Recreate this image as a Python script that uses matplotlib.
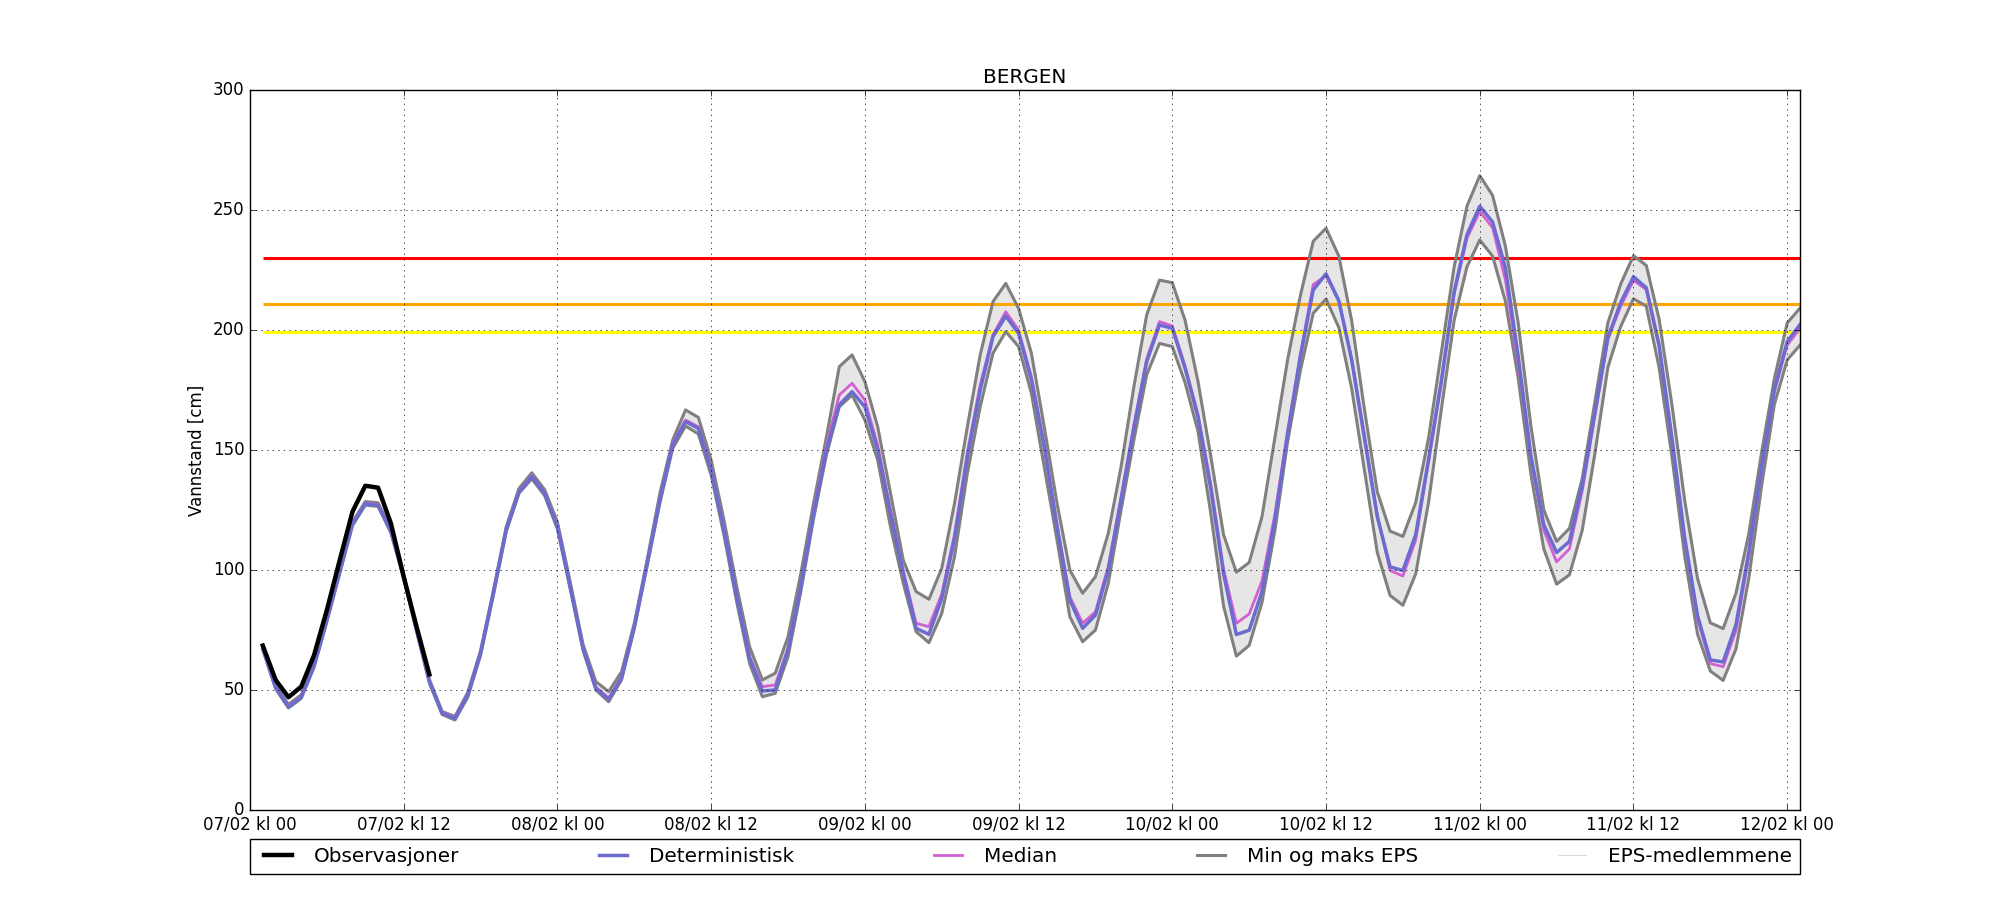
import datetime
import numpy as np
import pandas as pd
import matplotlib
matplotlib.use('Agg')
import matplotlib.pyplot as plt
import matplotlib.dates as mdates
from matplotlib.lines import Line2D

plt.style.use('classic')

station = 'BERGEN'
start = datetime.datetime(2016, 2, 7, 0, 0)
times = pd.date_range('2016-02-07 01:00', periods=121, freq='h')

# observed water level (first 14 hours)
obs = [68.5, 54.2, 47, 51.4, 64.5, 83.3, 104, 124.3, 135.1, 134.3, 119.4, 97.2, 76.4, 56.5]

deterministic = [
    67, 51, 43, 47, 60, 79, 99, 119, 127.5, 127, 116, 97, 75, 53.5, 40.3, 38.2, 47.9, 65.3, 90.3, 116.7, 132.6, 138.9, 131.9, 118,
    93, 67.4, 50.7, 46.1, 54.9, 76.4, 102.8, 129.2, 152.1, 161.8, 159, 141.7, 116.7, 88.9, 63.2, 49.6, 50, 66.7, 93, 123.6, 150, 168.8, 174.3, 168,
    150, 123.6, 98.6, 75.7, 73.2, 88.2, 113.2, 147.2, 175, 197.2, 205.8, 198.6, 179.2, 151.4, 118, 87.5, 75.7, 81.2, 100, 129.2, 159, 186.8, 202.1, 200.7,
    184, 163.8, 134, 98.4, 73.1, 74.9, 91, 120.7, 156.4, 189.1, 216.7, 223.4, 212.2, 187.6, 154.9, 122.2, 101.3, 99.8, 114.7, 146, 178.7, 215.9, 239.7, 251.6,
    245, 226, 189, 147.4, 118.8, 107.3, 111.9, 135, 165.9, 196.8, 211.4, 222.2, 217.6, 193.7, 155.1, 113.4, 81, 62.5, 61.7, 77.2, 107.3, 142.7, 175.2, 195.2, 202.2]

median = [
    67.2, 51.2, 43.3, 47.3, 60.2, 79.3, 99.3, 119.3, 127.8, 127.3, 116.3, 97.3, 75.3, 53.8, 40.6, 38.6, 48.3, 65.6, 90.6, 117, 133, 139.3, 132.3, 118.5,
    93.5, 67.8, 51.2, 46.7, 55.4, 76.8, 103.2, 129.8, 152.8, 162.5, 159.7, 142.5, 117.5, 89.5, 64, 51.4, 52.1, 67.5, 93.5, 124.5, 152, 172.9, 177.8, 170.8,
    152, 125, 99.5, 77.8, 76.4, 90, 115, 149, 177, 198, 207.6, 200, 180.5, 152.5, 119, 88.9, 77.8, 82.6, 101.5, 130.5, 160.5, 188, 203.5, 201.7,
    185, 165, 136, 100.5, 77.8, 81.7, 95.4, 123, 158, 190, 218.9, 222.6, 212, 188, 156, 123, 99.8, 97.5, 112.5, 145, 178, 215, 238.2, 249.4,
    242.7, 221, 186, 146.5, 116.5, 103.4, 108.8, 133, 164.5, 196, 209.9, 220.7, 216.8, 193, 154.5, 112.5, 79.5, 61, 59.7, 74.8, 105.5, 141.5, 174.5, 193.7, 200.6]

eps_max = [
    68, 52, 44, 48, 61, 80, 100, 120, 128.5, 128, 117, 98, 76, 54.5, 41, 39, 49, 66.5, 91.5, 118, 134, 140.5, 133.5, 120,
    95, 69, 53.5, 49.3, 57.6, 77.8, 104.2, 132, 154.2, 166.7, 163.6, 145.8, 120.8, 93, 68, 54.2, 57, 72.2, 98.5, 128, 155.5, 184.7, 189.6, 178.5,
    159.7, 132, 104, 91, 87.8, 100.7, 127.8, 159.7, 189.6, 211.8, 219.4, 209, 190.3, 159.7, 127.8, 100, 90.3, 97.2, 115.3, 143, 176.4, 206.3, 220.8, 219.7,
    204, 178.7, 147.5, 114.7, 99.1, 103.1, 122.2, 154.9, 187.6, 214.4, 237, 242.4, 230.8, 204, 166.8, 132.6, 116.2, 114, 128.1, 154.9, 190.6, 226.3, 251.6, 264.3,
    256.1, 235, 203, 159.7, 125, 111.9, 117.3, 138.1, 170.5, 202.9, 219.1, 231, 226.9, 204.5, 169, 128.9, 96.5, 78, 75.6, 90.3, 115, 148.9, 179.8, 202.9, 209.1]

eps_min = [
    67, 50.5, 42.5, 46.5, 59.5, 78.5, 98.5, 118.5, 127, 126.5, 115.5, 96.5, 74.5, 53, 39.8, 37.5, 47, 64.5, 89.5, 116, 132, 138, 131, 117,
    92, 66.5, 50, 45.1, 54.2, 75.5, 101.5, 128, 150.7, 160, 156.7, 139.5, 114.5, 86.5, 61.1, 47.2, 48.6, 63.9, 91, 121.5, 148, 168, 172.9, 162.5,
    145.8, 118, 94.4, 74.3, 69.7, 81.9, 105.6, 140.3, 168, 190.3, 199.3, 193.1, 173.6, 143, 112.5, 80.5, 70.1, 75, 94.4, 125, 154.2, 181.3, 194.4, 193.1,
    178, 157.9, 123.7, 85, 64.1, 68.6, 86.5, 116.2, 153.4, 183.2, 207, 212.9, 201, 175.7, 141.5, 107.3, 89.4, 85.3, 98.4, 128.1, 166.8, 204, 226.3, 237.5,
    230.8, 212, 180, 139.7, 108.8, 94.1, 98, 116.5, 148.9, 184.4, 201.4, 213, 209.9, 184.4, 147.4, 105.7, 73.3, 57.9, 54, 67.1, 96.5, 135, 169, 187.5, 193.7]

# warning levels (cm)
levels = [230, 211, 199]
level_colors = ['red', 'orange', 'yellow']

labels = ['Observasjoner', 'Deterministisk', 'Median', 'Min og maks EPS', 'EPS-medlemmene']

c_det = '#6b6bd0'
c_med = '#d260d2'
c_minmax = 'gray'
c_members = '#e6e6e6'

fig = plt.figure(figsize=(20, 9))
ax = fig.add_subplot(111)

for lev, col in zip(levels, level_colors):
    ax.hlines(lev, times[0], times[-1], colors=col, linewidth=2.2)

# ensemble spread
ax.fill_between(times, eps_min, eps_max, color=c_members, linewidth=0)
ax.plot(times, eps_min, color=c_minmax, linewidth=2.2)
ax.plot(times, eps_max, color=c_minmax, linewidth=2.2)
ax.plot(times, median, color=c_med, linewidth=2)
ax.plot(times, deterministic, color=c_det, linewidth=2.5)
ax.plot(times[:len(obs)], obs, color='k', linewidth=3.2)

ax.set_xlim(start, times[-1])
ax.set_ylim(0, 300)
ax.grid(True)
ax.xaxis.set_major_locator(mdates.HourLocator(byhour=[0, 12]))
ax.xaxis.set_major_formatter(mdates.DateFormatter('%d/%m kl %H'))
ax.set_ylabel('Vannstand [cm]')
ax.set_title(station)

handles = [Line2D([], [], color='k', linewidth=3.2),
           Line2D([], [], color=c_det, linewidth=2.5),
           Line2D([], [], color=c_med, linewidth=2),
           Line2D([], [], color=c_minmax, linewidth=2.2),
           Line2D([], [], color='#d9d9d9', linewidth=0.8)]
ax.legend(handles, labels, loc='upper left', bbox_to_anchor=(0., -0.04, 1., 0.),
          ncol=5, mode='expand', borderaxespad=0.)

fig.savefig('out.png', dpi=100)
